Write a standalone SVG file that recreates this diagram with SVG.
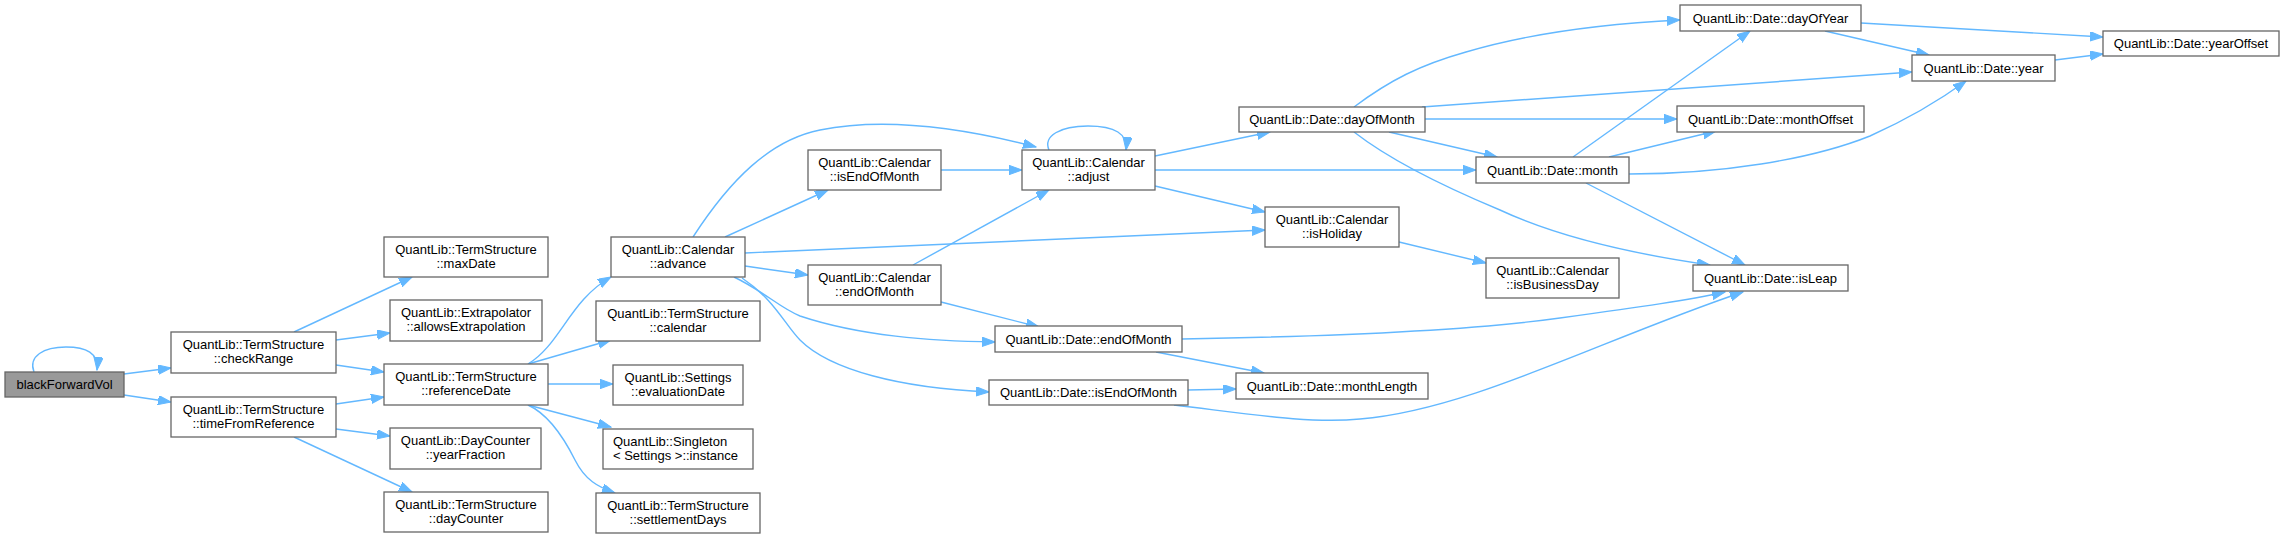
<svg xmlns="http://www.w3.org/2000/svg" width="2284" height="538" viewBox="0 0 2284 538">
<style>
.node rect{fill:#ffffff;stroke:#666666;stroke-width:1.3}
.node.root rect{fill:#999999}
.node text{font-family:"Liberation Sans",Arial,sans-serif;font-size:13px;fill:#000000;text-anchor:middle}
.node text.l{text-anchor:start}
.edges path{fill:none;stroke:#63b8ff;stroke-width:1.4;marker-end:url(#arr)}
</style>
<defs>
<marker id="arr" markerUnits="userSpaceOnUse" markerWidth="14" markerHeight="10" refX="13" refY="4.7" orient="auto">
<path d="M0,0 L13,4.7 L0,9.4 z" fill="#63b8ff" stroke="#63b8ff" stroke-width="1"/>
</marker>
</defs>
<rect width="2284" height="538" fill="#ffffff"/>
<g class="edges" id="edges">
<path d="M34,372 C28,356 44,347 66,347 C86,347 99,353 97,370"/>
<path d="M124,374 L171,368"/>
<path d="M124,395 L171,402"/>
<path d="M294,332 L412,277"/>
<path d="M336,340 L390,333"/>
<path d="M336,365 L384,372"/>
<path d="M336,404 L384,397"/>
<path d="M336,429 L390,436"/>
<path d="M294,437 L412,492"/>
<path d="M528,364 C560,345 570,300 611,277"/>
<path d="M528,364 L611,340"/>
<path d="M548,384 L613,384"/>
<path d="M528,405 L611,427"/>
<path d="M528,405 C550,415 565,440 575,460 C585,480 598,487 615,493"/>
<path d="M693,237 C730,180 770,140 820,130 C870,120 940,122 1036,147"/>
<path d="M725,237 L828,190"/>
<path d="M745,253 L1265,230"/>
<path d="M745,266 L808,275"/>
<path d="M734,277 C765,292 780,308 800,316 C860,336 930,341 995,342"/>
<path d="M742,278 C775,300 785,325 800,340 C830,370 900,388 989,392"/>
<path d="M941,170 L1022,170"/>
<path d="M913,265 L1049,190"/>
<path d="M941,302 L1039,327"/>
<path d="M1049,150 C1043,136 1060,126 1088,126 C1115,126 1128,134 1126,150"/>
<path d="M1155,156 L1270,132"/>
<path d="M1155,170 L1476,170"/>
<path d="M1155,186 L1265,212"/>
<path d="M1354,107 C1390,80 1420,65 1466,52 C1530,33 1600,24 1680,20"/>
<path d="M1422,107 L1912,72"/>
<path d="M1425,119 L1677,119"/>
<path d="M1389,132 L1497,157"/>
<path d="M1354,132 C1390,160 1440,185 1500,210 C1560,238 1640,255 1710,265"/>
<path d="M1573,157 L1750,31"/>
<path d="M1609,157 L1716,131"/>
<path d="M1629,174 C1720,174 1810,160 1870,136 C1910,118 1940,100 1966,81"/>
<path d="M1586,183 L1745,265"/>
<path d="M1861,23 L2103,37"/>
<path d="M1825,31 L1929,55"/>
<path d="M2055,60 L2103,54"/>
<path d="M1399,242 L1486,263"/>
<path d="M1182,339 C1300,337 1460,332 1560,318 C1640,307 1690,300 1725,292"/>
<path d="M1156,352 L1264,373"/>
<path d="M1188,390 L1236,389"/>
<path d="M1174,405 C1250,414 1310,424 1360,419 C1470,410 1600,340 1743,292"/>
</g>
<g id="n1" class="node root"><rect x="5" y="372" width="119" height="25"/><text x="64.5" y="389">blackForwardVol</text></g>
<g id="n2" class="node"><rect x="171" y="332" width="165" height="41"/><text x="253.5" y="348.5">QuantLib::TermStructure</text><text x="253.5" y="363">::checkRange</text></g>
<g id="n3" class="node"><rect x="171" y="397" width="165" height="40"/><text x="253.5" y="413.5">QuantLib::TermStructure</text><text x="253.5" y="428">::timeFromReference</text></g>
<g id="n4" class="node"><rect x="384" y="237" width="164" height="40"/><text x="466" y="253.5">QuantLib::TermStructure</text><text x="466" y="268">::maxDate</text></g>
<g id="n5" class="node"><rect x="390" y="300" width="152" height="41"/><text x="466" y="316.5">QuantLib::Extrapolator</text><text x="466" y="331">::allowsExtrapolation</text></g>
<g id="n6" class="node"><rect x="384" y="364" width="164" height="41"/><text x="466" y="380.5">QuantLib::TermStructure</text><text x="466" y="395">::referenceDate</text></g>
<g id="n7" class="node"><rect x="390" y="428" width="151" height="41"/><text x="465.5" y="444.5">QuantLib::DayCounter</text><text x="465.5" y="459">::yearFraction</text></g>
<g id="n8" class="node"><rect x="384" y="492" width="164" height="40"/><text x="466" y="508.5">QuantLib::TermStructure</text><text x="466" y="523">::dayCounter</text></g>
<g id="n9" class="node"><rect x="611" y="237" width="134" height="40"/><text x="678" y="253.5">QuantLib::Calendar</text><text x="678" y="268">::advance</text></g>
<g id="n10" class="node"><rect x="596" y="301" width="164" height="40"/><text x="678" y="317.5">QuantLib::TermStructure</text><text x="678" y="332">::calendar</text></g>
<g id="n11" class="node"><rect x="613" y="365" width="130" height="40"/><text x="678" y="381.5">QuantLib::Settings</text><text x="678" y="396">::evaluationDate</text></g>
<g id="n12" class="node"><rect x="603" y="429" width="150" height="40"/><text class="l" x="613" y="445.5">QuantLib::Singleton</text><text class="l" x="613" y="460">&lt; Settings &gt;::instance</text></g>
<g id="n13" class="node"><rect x="596" y="493" width="164" height="40"/><text x="678" y="509.5">QuantLib::TermStructure</text><text x="678" y="524">::settlementDays</text></g>
<g id="n14" class="node"><rect x="808" y="150" width="133" height="40"/><text x="874.5" y="166.5">QuantLib::Calendar</text><text x="874.5" y="181">::isEndOfMonth</text></g>
<g id="n15" class="node"><rect x="808" y="265" width="133" height="40"/><text x="874.5" y="281.5">QuantLib::Calendar</text><text x="874.5" y="296">::endOfMonth</text></g>
<g id="n16" class="node"><rect x="1022" y="150" width="133" height="40"/><text x="1088.5" y="166.5">QuantLib::Calendar</text><text x="1088.5" y="181">::adjust</text></g>
<g id="n17" class="node"><rect x="995" y="326" width="187" height="26"/><text x="1088.5" y="343.5">QuantLib::Date::endOfMonth</text></g>
<g id="n18" class="node"><rect x="989" y="380" width="199" height="25"/><text x="1088.5" y="397">QuantLib::Date::isEndOfMonth</text></g>
<g id="n19" class="node"><rect x="1239" y="107" width="186" height="25"/><text x="1332" y="124">QuantLib::Date::dayOfMonth</text></g>
<g id="n20" class="node"><rect x="1265" y="207" width="134" height="40"/><text x="1332" y="223.5">QuantLib::Calendar</text><text x="1332" y="238">::isHoliday</text></g>
<g id="n21" class="node"><rect x="1236" y="373" width="192" height="26"/><text x="1332" y="390.5">QuantLib::Date::monthLength</text></g>
<g id="n22" class="node"><rect x="1680" y="5" width="181" height="26"/><text x="1770.5" y="22.5">QuantLib::Date::dayOfYear</text></g>
<g id="n23" class="node"><rect x="1677" y="106" width="187" height="26"/><text x="1770.5" y="123.5">QuantLib::Date::monthOffset</text></g>
<g id="n24" class="node"><rect x="1476" y="157" width="153" height="26"/><text x="1552.5" y="174.5">QuantLib::Date::month</text></g>
<g id="n25" class="node"><rect x="1486" y="258" width="133" height="40"/><text x="1552.5" y="274.5">QuantLib::Calendar</text><text x="1552.5" y="289">::isBusinessDay</text></g>
<g id="n26" class="node"><rect x="1693" y="265" width="155" height="26"/><text x="1770.5" y="282.5">QuantLib::Date::isLeap</text></g>
<g id="n27" class="node"><rect x="1912" y="55" width="143" height="26"/><text x="1983.5" y="72.5">QuantLib::Date::year</text></g>
<g id="n28" class="node"><rect x="2103" y="31" width="176" height="25"/><text x="2191" y="48">QuantLib::Date::yearOffset</text></g>
</svg>
